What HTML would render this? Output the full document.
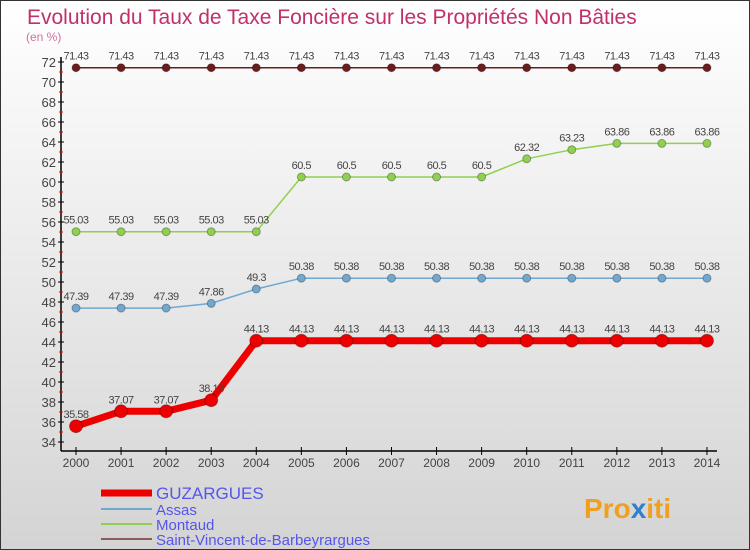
<!DOCTYPE html>
<html><head><meta charset="utf-8"><style>
body{margin:0}
#wrap{position:relative;width:748px;height:548px;border:1px solid #333;background:linear-gradient(#ffffff,#d4d4d4);font-family:"Liberation Sans",sans-serif;overflow:hidden}
</style></head><body>
<div id="wrap">
<svg id="chart" width="748" height="548" xmlns="http://www.w3.org/2000/svg">
<text x="26" y="23" font-size="21" fill="#c0306a">Evolution du Taux de Taxe Foncière sur les Propriétés Non Bâties</text>
<text x="25" y="40" font-size="12" fill="#d070a0">(en %)</text>
<g id="axes"></g><g id="series"></g><g id="legend"></g>
<text x="583" y="517" font-size="28" font-weight="bold" fill="#f0a020">Pro<tspan fill="#3080d0">x</tspan>iti</text>
</svg>
</div>
<script>
const years=[2000,2001,2002,2003,2004,2005,2006,2007,2008,2009,2010,2011,2012,2013,2014];
const guzargues=[35.58,37.07,37.07,38.18,44.13,44.13,44.13,44.13,44.13,44.13,44.13,44.13,44.13,44.13,44.13];
const assas=[47.39,47.39,47.39,47.86,49.3,50.38,50.38,50.38,50.38,50.38,50.38,50.38,50.38,50.38,50.38];
const montaud=[55.03,55.03,55.03,55.03,55.03,60.5,60.5,60.5,60.5,60.5,62.32,63.23,63.86,63.86,63.86];
const stvincent=[71.43,71.43,71.43,71.43,71.43,71.43,71.43,71.43,71.43,71.43,71.43,71.43,71.43,71.43,71.43];
const yTicks=[34,36,38,40,42,44,46,48,50,52,54,56,58,60,62,64,66,68,70,72];
const seriesNames=["GUZARGUES","Assas","Montaud","Saint-Vincent-de-Barbeyrargues"];
const NS="http://www.w3.org/2000/svg";
const x=i=>75+i*45.07;
const y=v=>441-(v-34)*10;
function mk(tag,attrs,parent,text){const e=document.createElementNS(NS,tag);for(const k in attrs)e.setAttribute(k,attrs[k]);if(text!==undefined)e.textContent=text;parent.appendChild(e);return e;}
const axes=document.getElementById('axes');
let e=mk('line',{x1:60,y1:56,x2:60,y2:450,stroke:'#000','stroke-width':1.5},axes);

e=mk('line',{x1:60,y1:450,x2:716,y2:450,stroke:'#000','stroke-width':1.5},axes);

yTicks.forEach(t=>{
 mk('line',{x1:57,y1:y(t),x2:63,y2:y(t),stroke:'#000'},axes);
 if(t<72)mk('line',{x1:58,y1:y(t+1),x2:62,y2:y(t+1),stroke:'#e00'},axes);
 const l=mk('text',{x:55,y:y(t)+5,'text-anchor':'end','font-size':13,fill:'#444'},axes,String(t));
 
});
years.forEach((yr,i)=>{
 mk('line',{x1:x(i),y1:446,x2:x(i),y2:454,stroke:'#000'},axes);
 const l=mk('text',{x:x(i),y:466,'text-anchor':'middle','font-size':12,fill:'#444'},axes,String(yr));
 
});
const ser=document.getElementById('series');
function draw(data,color,lw,r,name){
 const g=mk('g',{},ser);
 
 mk('polyline',{points:data.map((v,i)=>x(i)+','+y(v)).join(' '),fill:'none',stroke:color,'stroke-width':lw,'stroke-linejoin':'round'},g);
 data.forEach((v,i)=>{
  const c=mk('circle',{cx:x(i),cy:y(v),r:r,fill:color,stroke:'rgba(0,0,0,0.3)','stroke-width':1},g);
  
  const t=mk('text',{x:x(i),y:y(v)-8,'text-anchor':'middle','font-size':11,fill:'#444','letter-spacing':'-0.5'},g,String(v));
  
 });
}
draw(stvincent,'#6b1c1c',1.5,4,'series-saint-vincent');
draw(montaud,'#90d050',1.5,4,'series-montaud');
draw(assas,'#70a8d0',1.5,4,'series-assas');
draw(guzargues,'#ee0000',7,6.5,'series-guzargues');
const leg=document.getElementById('legend');
const lc=['#ee0000','#70a8d0','#90d050','#8b5a5a'],lws=[7,2,2,2],ly=[492,508,523,538],fs=[17,15,15,15];
seriesNames.forEach((n,i)=>{
 const g=mk('g',{},leg);
 
 mk('line',{x1:100,y1:ly[i],x2:151,y2:ly[i],stroke:lc[i],'stroke-width':lws[i]},g);
 mk('text',{x:155,y:ly[i]+6,'font-size':fs[i],fill:'#5555ee'},g,n);
});
</script>
</body></html>
